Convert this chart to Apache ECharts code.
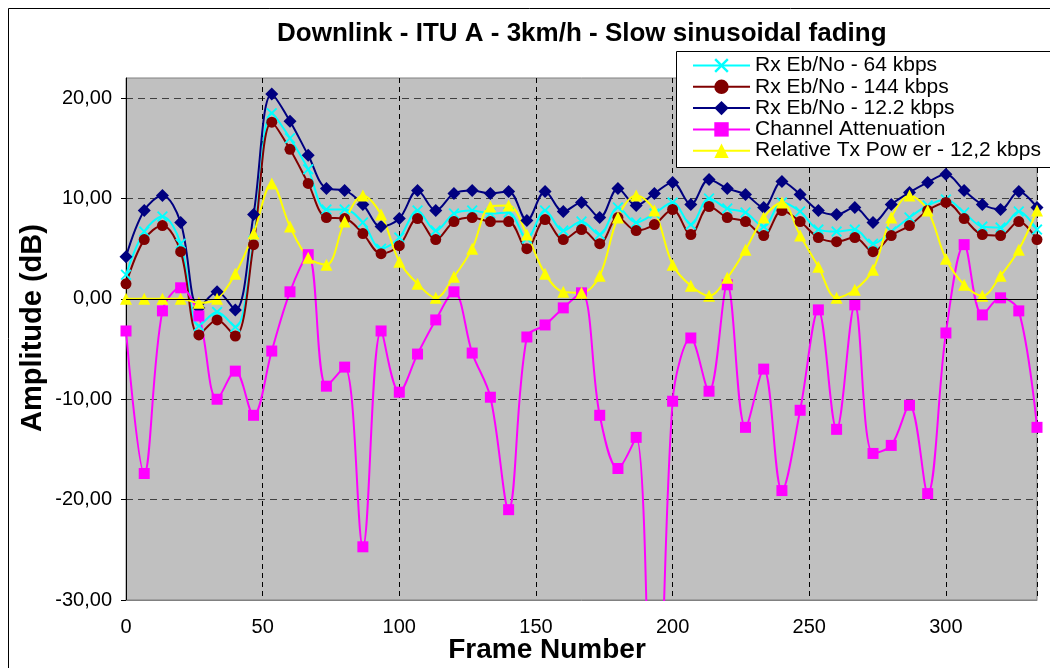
<!DOCTYPE html>
<html><head><meta charset="utf-8">
<script src="https://cdn.jsdelivr.net/npm/echarts@6/dist/echarts.min.js"></script>
<style>html,body{margin:0;padding:0;background:#fff}#c{width:1050px;height:668px}</style>
</head><body><div id="c"></div>
<script>
// Frame numbers of the samples
const frames = [0, 6.67, 13.33, 20, 26.67, 33.33, 40, 46.67, 53.33, 60,
  66.67, 73.33, 80, 86.67, 93.33, 100, 106.67, 113.33, 120, 126.67,
  133.33, 140, 146.67, 153.33, 160, 166.67, 173.33, 180, 186.67, 193.33,
  200, 206.67, 213.33, 220, 226.67, 233.33, 240, 246.67, 253.33, 260,
  266.67, 273.33, 280, 286.67, 293.33, 300, 306.67, 313.33, 320, 326.67, 333.33];

const rx64 = [2.4, 6.7, 8.2, 5.5, -2.7, -1.3, -2.8, 5.8, 18.5, 16.0,
  12.9, 8.9, 8.9, 7.6, 5.0, 6.1, 8.8, 6.8, 8.5, 8.8,
  8.5, 8.6, 6.0, 8.8, 6.8, 7.7, 6.4, 9.1, 7.6, 8.5,
  9.6, 7.4, 10.0, 9.0, 8.6, 7.2, 9.6, 8.7, 6.9, 6.7,
  6.9, 5.5, 6.7, 8.1, 9.3, 9.9, 8.6, 7.2, 7.1, 8.7, 6.9];

const rx144 = [1.5, 5.9, 7.3, 4.7, -3.6, -2.1, -3.7, 5.4, 17.6, 14.9,
  11.5, 8.1, 8.0, 6.5, 4.5, 5.3, 8.0, 5.9, 7.7, 8.1,
  7.7, 7.7, 5.0, 7.9, 5.9, 6.9, 5.5, 8.1, 6.8, 7.4,
  8.9, 6.4, 9.2, 8.1, 7.7, 6.3, 8.8, 7.7, 6.1, 5.7,
  6.1, 4.7, 6.3, 7.3, 8.8, 9.6, 8.0, 6.4, 6.3, 7.7, 5.9];

const rx122 = [4.2, 8.8, 10.3, 7.6, -0.9, 0.7, -1.1, 8.4, 20.4, 17.7,
  14.3, 11.0, 10.8, 9.4, 7.2, 8.0, 10.8, 8.8, 10.5, 10.8,
  10.5, 10.7, 7.8, 10.7, 8.7, 9.6, 8.1, 11.0, 9.3, 10.5,
  11.6, 9.4, 11.9, 11.0, 10.4, 9.1, 11.7, 10.4, 8.8, 8.4,
  9.1, 7.6, 9.4, 10.6, 11.6, 12.4, 10.8, 9.4, 8.9, 10.7, 9.1];

const chanAtt = [-3.2, -17.4, -1.2, 1.1, -1.7, -10.0, -7.2, -11.6, -5.2, 0.7,
  4.4, -8.7, -6.8, -24.7, -3.2, -9.3, -5.5, -2.1, 0.7, -5.4,
  -9.8, -21.0, -3.8, -2.6, -0.9, 0.6, -11.6, -16.9, -13.8, -55.0,
  -10.2, -3.9, -9.2, 1.4, -12.8, -7.0, -19.1, -11.1, -1.1, -13.0,
  -0.6, -15.4, -14.6, -10.6, -19.4, -3.4, 5.4, -1.6, 0.1, -1.2, -12.8];

const txPow = [0, 0, 0, 0, -0.4, 0, 2.5, 6.5, 11.5, 7.2,
  4.1, 3.4, 7.7, 10.3, 8.4, 3.7, 1.5, 0.1, 2.2, 5.0,
  9.2, 9.3, 6.4, 2.5, 0.7, 0.6, 2.3, 8.1, 10.3, 8.8,
  3.4, 1.3, 0.3, 2.1, 4.9, 8.1, 9.6, 6.3, 3.2, 0.1,
  0.9, 2.9, 8.1, 10.3, 8.8, 4.0, 1.4, 0.3, 2.3, 4.9, 8.8];

const seriesNames = ['Rx Eb/No - 64 kbps', 'Rx Eb/No - 144 kbps', 'Rx Eb/No - 12.2 kbps',
  'Channel Attenuation', 'Relative Tx Pow er - 12,2 kbps'];
const yTicks = [-30, -20, -10, 0, 10, 20];
const xTicks = [0, 50, 100, 150, 200, 250, 300];
const titleText = 'Downlink - ITU A - 3km/h - Slow sinusoidal fading';
const xName = 'Frame Number';
const yName = 'Amplitude (dB)';

const FONT = '"Liberation Sans", Arial, sans-serif';
const crossPath = 'path://M0,1.2L1.2,0L5,3.8L8.8,0L10,1.2L6.2,5L10,8.8L8.8,10L5,6.2L1.2,10L0,8.8L3.8,5Z';

function pairs(v) { return frames.map((f, i) => [f, v[i]]); }

const styles = [
  { color: '#00FFFF', symbol: crossPath, size: 11 },
  { color: '#800000', symbol: 'circle', size: 11 },
  { color: '#000080', symbol: 'diamond', size: 13 },
  { color: '#FF00FF', symbol: 'rect', size: 11 },
  { color: '#FFFF00', symbol: 'triangle', size: 12 }
];
const values = [rx64, rx144, rx122, chanAtt, txPow];

const series = values.map((v, k) => ({
  name: seriesNames[k],
  type: 'line',
  data: pairs(v),
  smooth: 0.35,
  symbol: styles[k].symbol,
  symbolSize: styles[k].size,
  showAllSymbol: true,
  clip: true,
  lineStyle: { color: styles[k].color, width: 2 },
  itemStyle: { color: styles[k].color, borderWidth: 0 },
  emphasis: { disabled: true },
  animation: false
}));

series[0].markLine = {
  silent: true, symbol: 'none', label: { show: false },
  lineStyle: { color: '#000', type: 'solid', width: 1 },
  data: [{ yAxis: 0 }], animation: false
};

const chart = echarts.init(document.getElementById('c'));
chart.setOption({
  backgroundColor: '#ffffff',
  animation: false,
  title: {
    text: titleText, left: 272, top: 16,
    textStyle: { fontFamily: FONT, fontSize: 26, fontWeight: 'bold', color: '#000' }
  },
  graphic: [
    { type: 'rect', z: -10, shape: { x: 8.5, y: 8.5, width: 1200, height: 800 },
      style: { fill: null, stroke: '#000', lineWidth: 1 } },
    { type: 'rect', z: 50, shape: { x: 676.5, y: 51.5, width: 500, height: 116 },
      style: { fill: '#fff', stroke: '#000', lineWidth: 1 } }
  ],
  legend: {
    z: 60,
    orient: 'vertical', left: 692, top: 55, padding: 0,
    itemWidth: 57, itemHeight: 18, itemGap: 0.3,
    textStyle: { fontFamily: FONT, fontSize: 21, lineHeight: 21, color: '#000' },
    data: seriesNames
  },
  grid: {
    left: 126, right: 13, top: 78, bottom: 68,
    outerBoundsMode: 'none', containLabel: false,
    show: true, backgroundColor: '#C0C0C0', borderColor: '#808080', borderWidth: 1
  },
  xAxis: {
    type: 'value', min: 0, max: 333.33, interval: 50,
    name: xName, nameLocation: 'middle', nameGap: 36, nameMoveOverlap: false,
    nameTextStyle: { fontFamily: FONT, fontSize: 28, fontWeight: 'bold', color: '#000', padding: [0, 69, 0, 0] },
    axisLine: { onZero: false, lineStyle: { color: '#808080' } },
    axisTick: { show: false },
    axisLabel: {
      fontFamily: FONT, fontSize: 20, color: '#000', margin: 17,
      formatter: v => xTicks.indexOf(Math.round(v)) >= 0 && Math.abs(v - Math.round(v)) < 1e-6 ? String(v) : ''
    },
    splitLine: { show: true, lineStyle: { color: '#000', type: [5, 4], width: 1 } }
  },
  yAxis: {
    type: 'value', min: -30, max: 22, interval: 10,
    name: yName, nameLocation: 'middle', nameGap: 79, nameRotate: 90, nameMoveOverlap: false,
    nameTextStyle: { fontFamily: FONT, fontSize: 29, fontWeight: 'bold', color: '#000', padding: [0, 0, 0, 22] },
    axisLine: { show: true, lineStyle: { color: '#000' } },
    axisTick: { show: true, inside: false, length: 5, customValues: yTicks, lineStyle: { color: '#000' } },
    axisLabel: {
      fontFamily: FONT, fontSize: 20, color: '#000', margin: 14,
      formatter: v => yTicks.indexOf(v) >= 0 ? v.toFixed(2).replace('.', ',') : ''
    },
    splitLine: { show: true, lineStyle: { color: '#404040', type: [7, 5], width: 1 } }
  },
  series: series
});
</script>
</body></html>
